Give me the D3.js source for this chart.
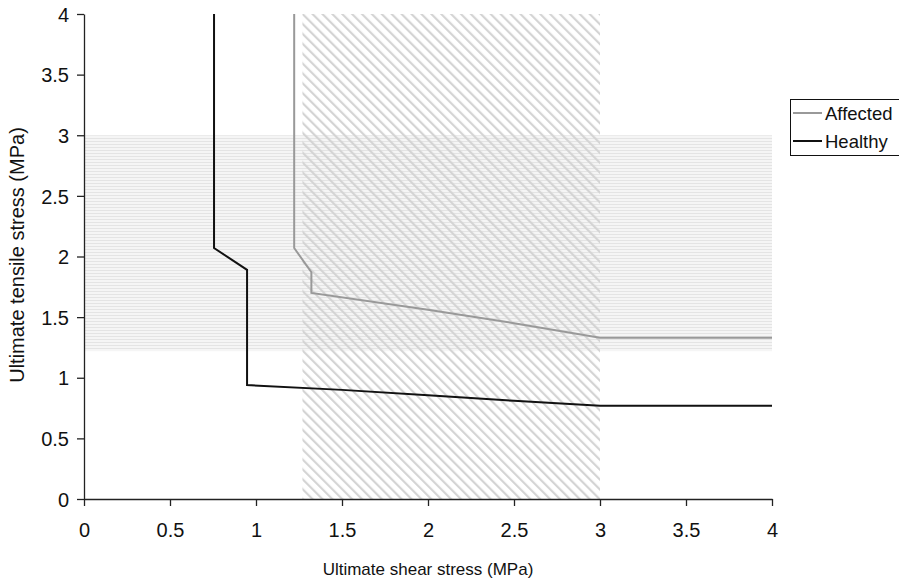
<!DOCTYPE html>
<html>
<head>
<meta charset="utf-8">
<script src="https://cdn.jsdelivr.net/npm/d3@7"></script>
<style>
  body { margin: 0; background: #fff; }
  svg { display: block; font-family: "Liberation Sans", Arial, sans-serif; }
</style>
</head>
<body>
<svg width="899" height="584"></svg>
<script>
  // data
  var xTicks = [0, 0.5, 1, 1.5, 2, 2.5, 3, 3.5, 4];
  var yTicks = [0, 0.5, 1, 1.5, 2, 2.5, 3, 3.5, 4];

  var healthyX = [0.756, 0.756, 0.948, 0.948, 1.5, 2, 2.5, 3, 4];
  var healthyY = [4, 2.07, 1.89, 0.94, 0.90, 0.855, 0.81, 0.77, 0.77];

  var affectedX = [1.222, 1.222, 1.322, 1.322, 2, 2.5, 3, 4];
  var affectedY = [4, 2.07, 1.87, 1.70, 1.56, 1.45, 1.33, 1.33];

  // shaded ranges: shear band (x) and tensile band (y)
  var shearBand = [1.27, 3.0];
  var tensileBand = [1.22, 3.0];

  var seriesNames = ["Affected", "Healthy"];
  var seriesColors = ["#999999", "#111111"];

  var svg = d3.select("svg");
  var x = d3.scaleLinear().domain([0, 4]).range([84, 772]);
  var y = d3.scaleLinear().domain([0, 4]).range([499, 14]);

  // patterns
  var defs = svg.append("defs");
  var hp = defs.append("pattern")
    .attr("id", "hlines").attr("patternUnits", "userSpaceOnUse")
    .attr("width", 8).attr("height", 3);
  hp.append("rect").attr("width", 8).attr("height", 3).attr("fill", "#f5f5f5");
  hp.append("rect").attr("y", 0).attr("width", 8).attr("height", 1).attr("fill", "#e4e4e4");

  var dp = defs.append("pattern")
    .attr("id", "diag").attr("patternUnits", "userSpaceOnUse")
    .attr("width", 7).attr("height", 7)
    .attr("patternTransform", "rotate(-45)");
  dp.append("rect").attr("x", 0).attr("width", 2.2).attr("height", 7).attr("fill", "#d4d4d4");

  // tensile band (horizontal lines)
  svg.append("rect")
    .attr("x", x(0)).attr("width", x(4) - x(0))
    .attr("y", y(tensileBand[1])).attr("height", y(tensileBand[0]) - y(tensileBand[1]))
    .attr("fill", "url(#hlines)");

  // shear band (diagonal hatching)
  svg.append("rect")
    .attr("x", x(shearBand[0])).attr("width", x(shearBand[1]) - x(shearBand[0]))
    .attr("y", y(4)).attr("height", y(0) - y(4))
    .attr("fill", "url(#diag)");

  // axes
  var xAxis = svg.append("g").attr("transform", "translate(0," + y(0) + ")")
    .call(d3.axisBottom(x).tickValues(xTicks).tickSize(7).tickSizeOuter(0).tickFormat(d3.format("")));
  var yAxis = svg.append("g").attr("transform", "translate(" + x(0) + ",0)")
    .call(d3.axisLeft(y).tickValues(yTicks).tickSize(7).tickSizeOuter(0).tickFormat(d3.format("")));

  [xAxis, yAxis].forEach(function(a){
    a.select(".domain").attr("stroke", "#222").attr("stroke-width", 1.3);
    a.selectAll(".tick line").attr("stroke", "#222").attr("stroke-width", 1.3);
    a.selectAll(".tick text").attr("fill", "#111").style("font-size", "20px");
  });
  xAxis.selectAll(".tick text").attr("y", 31).attr("dy", "0.36em");
  yAxis.selectAll(".tick text").attr("x", -15).attr("dy", "0.36em");

  // axis titles
  svg.append("text").attr("x", 428).attr("y", 575)
    .attr("text-anchor", "middle").style("font-size", "17px").attr("fill", "#111")
    .text("Ultimate shear stress (MPa)");
  svg.append("text").attr("transform", "translate(24,255) rotate(-90)")
    .attr("text-anchor", "middle").style("font-size", "20px").attr("fill", "#111")
    .text("Ultimate tensile stress (MPa)");

  // lines
  var line = d3.line().x(function(d){ return x(d[0]); }).y(function(d){ return y(d[1]); });
  var series = [
    { name: "Affected", pts: d3.zip(affectedX, affectedY), color: seriesColors[0] },
    { name: "Healthy", pts: d3.zip(healthyX, healthyY), color: seriesColors[1] }
  ];
  svg.selectAll("path.series").data(series).enter().append("path")
    .attr("class", "series")
    .attr("d", function(d){ return line(d.pts); })
    .attr("fill", "none")
    .attr("stroke", function(d){ return d.color; })
    .attr("stroke-width", 2);

  // legend
  var lg = svg.append("g");
  lg.append("rect").attr("x", 790.5).attr("y", 99.5).attr("width", 120).attr("height", 56)
    .attr("fill", "#fff").attr("stroke", "#111").attr("stroke-width", 1);
  seriesNames.forEach(function(n, i){
    var yy = 113 + i * 28;
    lg.append("line").attr("x1", 793).attr("x2", 822).attr("y1", yy).attr("y2", yy)
      .attr("stroke", seriesColors[i]).attr("stroke-width", 2);
    lg.append("text").attr("x", 825).attr("y", yy).attr("dy", "0.36em")
      .style("font-size", "18.5px").attr("fill", "#111").text(n);
  });
</script>
</body>
</html>
